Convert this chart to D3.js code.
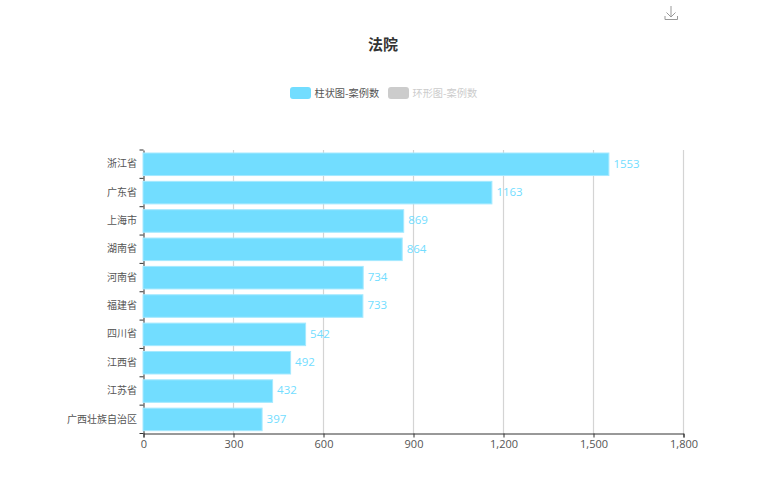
<!DOCTYPE html>
<html>
<head>
<meta charset="utf-8">
<script src="https://cdn.jsdelivr.net/npm/d3@7"></script>
<style>
  html, body { margin: 0; padding: 0; background: #fff; }
  svg { display: block; font-family: "Noto Sans CJK SC", sans-serif; }
  text { font-family: "Noto Sans CJK SC", sans-serif; }
  .num { font-family: "Open Sans", sans-serif; }
</style>
</head>
<body>
<svg id="chart" width="766" height="500"></svg>
<script>
const provinces = ['浙江省', '广东省', '上海市', '湖南省', '河南省', '福建省', '四川省', '江西省', '江苏省', '广西壮族自治区'];
const caseCounts = [1553, 1163, 869, 864, 734, 733, 542, 492, 432, 397];
const xTicks = [0, 300, 600, 900, 1200, 1500, 1800];
const legendNames = ['柱状图-案例数', '环形图-案例数'];

const svg = d3.select('#chart');
const barColor = '#72ddff';
const axisColor = '#333';
const labelColor = '#555';

const x = d3.scaleLinear().domain([0, 1800]).range([143.5, 683.5]);
const y = d3.scaleBand().domain(provinces).range([150, 433.5]);

// title
svg.append('text').attr('x', 383).attr('y', 50)
  .attr('text-anchor', 'middle').attr('font-size', 15).attr('font-weight', 700)
  .attr('fill', '#333').text('法院');

// legend
const legend = svg.append('g');
[[290, barColor, '#555'], [388, '#ccc', '#ccc']].forEach((d, i) => {
  legend.append('rect').attr('x', d[0]).attr('y', 87).attr('width', 21).attr('height', 12)
    .attr('rx', 3).attr('fill', d[1]);
  legend.append('text').attr('x', d[0] + 24.5).attr('y', 96.5)
    .attr('font-size', 10.2).attr('fill', d[2]).text(legendNames[i]);
});

// download icon
svg.append('path')
  .attr('d', 'M671 6V17M666.5 12.5L671 17L675.5 12.5M665 16V19.5H677.5V16')
  .attr('fill', 'none').attr('stroke', '#999').attr('stroke-width', 1);

// grid
svg.append('g').selectAll('line').data(xTicks.slice(1)).join('line')
  .attr('x1', d => x(d)).attr('x2', d => x(d))
  .attr('y1', 150).attr('y2', 433.5)
  .attr('stroke', '#d4d4d4').attr('stroke-width', 1.2);

// y axis, the bars sit on top of it
const yAxis = svg.append('g').attr('transform', 'translate(143.5,0)')
  .call(d3.axisLeft(y).tickSize(0).tickPadding(6.5));
yAxis.select('.domain').attr('stroke', axisColor);
yAxis.selectAll('text').attr('font-size', 10).attr('fill', labelColor)
  .attr('font-family', '"Noto Sans CJK SC", sans-serif');
svg.append('g').selectAll('line').data(d3.range(provinces.length + 1)).join('line')
  .attr('x1', 139.5).attr('x2', 143.5)
  .attr('y1', d => 150 + d * y.bandwidth()).attr('y2', d => 150 + d * y.bandwidth())
  .attr('stroke', axisColor);

// bars
const bandInset = 3;
svg.append('g').selectAll('rect').data(caseCounts).join('rect')
  .attr('x', x(0) - 0.5)
  .attr('y', (d, i) => y(provinces[i]) + bandInset)
  .attr('width', d => x(d) - x(0))
  .attr('height', y.bandwidth() - bandInset * 2 + 0.2)
  .attr('fill', barColor)
  .attr('stroke', '#a5e9ff').attr('stroke-width', 1);

// value labels
svg.append('g').selectAll('text').data(caseCounts).join('text')
  .attr('class', 'num')
  .attr('x', d => x(d) + 4)
  .attr('y', (d, i) => y(provinces[i]) + y.bandwidth() / 2 + 3.5)
  .attr('font-size', 11.5).attr('fill', barColor)
  .text(d => d);

// x axis
const xAxis = svg.append('g').attr('transform', 'translate(0,433.5)')
  .call(d3.axisBottom(x).tickValues(xTicks).tickSize(4).tickPadding(3).tickFormat(d3.format(',')));
xAxis.select('.domain').attr('stroke', axisColor);
xAxis.selectAll('line').attr('stroke', axisColor);
xAxis.selectAll('text').attr('class', 'num').attr('font-size', 11).attr('fill', labelColor)
  .attr('font-family', '"Open Sans", sans-serif');
</script>
</body>
</html>
